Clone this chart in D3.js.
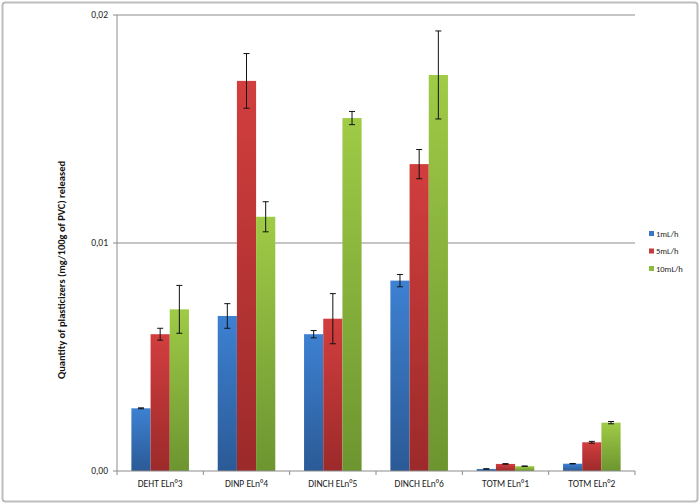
<!DOCTYPE html>
<html>
<head>
<meta charset="utf-8">
<script src="https://cdn.jsdelivr.net/npm/d3@7"></script>
<style>
  body { margin: 0; background: #fff; }
  svg { display: block; font-family: Calibri, "Open Sans", "Liberation Sans", sans-serif; }
</style>
</head>
<body>
<div id="container"></div>
<script>
var categories = ["DEHT ELn°3", "DINP ELn°4", "DINCH ELn°5", "DINCH ELn°6", "TOTM ELn°1", "TOTM ELn°2"];
var seriesNames = ["1mL/h", "5mL/h", "10mL/h"];
var values1 = [0.00275, 0.0068, 0.0060, 0.00835, 0.00009, 0.00032];
var values5 = [0.0060, 0.01711, 0.00668, 0.01346, 0.00031, 0.00126];
var values10 = [0.00709, 0.01115, 0.01548, 0.01737, 0.00021, 0.00212];
var errors1 = [0.00002, 0.00054, 0.00016, 0.00027, 0.00001, 0.00001];
var errors5 = [0.00026, 0.0012, 0.0011, 0.00064, 0.00001, 0.00004];
var errors10 = [0.00105, 0.00066, 0.00029, 0.00193, 0.00001, 0.00005];
var yTicks = [0, 0.01, 0.02];

var colors = [["#3d81d2", "#2b5a96"], ["#d23e3e", "#9c2a2a"], ["#9fcb46", "#6c9530"]];
var legendColors = ["#3a78c4", "#c53a3a", "#8cbb3e"];

var W = 700, H = 504;
var margin = { top: 15, right: 65, bottom: 33, left: 117 };
var width = W - margin.left - margin.right;
var height = H - margin.top - margin.bottom;

var svg = d3.select("#container").append("svg")
    .attr("width", W)
    .attr("height", H);

// rounded outer frame
svg.append("rect")
    .attr("x", 2.5).attr("y", 2.5)
    .attr("width", W - 5).attr("height", H - 5)
    .attr("rx", 3)
    .attr("fill", "none")
    .attr("stroke", "#bdbdbd")
    .attr("stroke-width", 2);

var defs = svg.append("defs");
colors.forEach((c, i) => {
    var g = defs.append("linearGradient")
        .attr("id", "grad" + i)
        .attr("x1", 0).attr("y1", 0).attr("x2", 0).attr("y2", 1);
    g.append("stop").attr("offset", "0%").attr("stop-color", c[0]);
    g.append("stop").attr("offset", "100%").attr("stop-color", c[1]);
});

var main = svg.append("g")
    .attr("transform", `translate(${margin.left},${margin.top})`);

var x0 = d3.scaleBand().domain(categories).range([0, width]).paddingInner(0).paddingOuter(0);
var barW = x0.bandwidth() / 4.5;
var x1 = d3.scaleBand().domain(seriesNames).range([0, barW * 3]);
var y = d3.scaleLinear().domain([0, 0.02]).range([height, 0]);

// gridlines
main.selectAll("line.grid")
    .data(yTicks.slice(1))
    .enter().append("line")
    .attr("class", "grid")
    .attr("x1", 0).attr("x2", width)
    .attr("y1", d => y(d)).attr("y2", d => y(d))
    .attr("stroke", "#8c8c8c")
    .attr("stroke-width", 1);

var data = categories.map((c, i) => ({
    cat: c,
    bars: [
        { s: seriesNames[0], v: values1[i], e: errors1[i], k: 0 },
        { s: seriesNames[1], v: values5[i], e: errors5[i], k: 1 },
        { s: seriesNames[2], v: values10[i], e: errors10[i], k: 2 }
    ]
}));

var group = main.selectAll("g.group")
    .data(data)
    .enter().append("g")
    .attr("class", "group")
    .attr("transform", d => `translate(${x0(d.cat) + (x0.bandwidth() - barW * 3) / 2},0)`);

group.selectAll("rect")
    .data(d => d.bars)
    .enter().append("rect")
    .attr("x", d => x1(d.s))
    .attr("width", x1.bandwidth())
    .attr("y", d => y(d.v))
    .attr("height", d => height - y(d.v))
    .attr("fill", d => `url(#grad${d.k})`);

// error bars
var err = group.selectAll("g.err")
    .data(d => d.bars)
    .enter().append("g")
    .attr("class", "err")
    .attr("stroke", "#111")
    .attr("stroke-width", 1);

err.append("line")
    .attr("x1", d => x1(d.s) + x1.bandwidth() / 2)
    .attr("x2", d => x1(d.s) + x1.bandwidth() / 2)
    .attr("y1", d => y(d.v + d.e))
    .attr("y2", d => y(d.v - d.e));
err.append("line")
    .attr("x1", d => x1(d.s) + x1.bandwidth() / 2 - 3)
    .attr("x2", d => x1(d.s) + x1.bandwidth() / 2 + 3)
    .attr("y1", d => y(d.v + d.e))
    .attr("y2", d => y(d.v + d.e));
err.append("line")
    .attr("x1", d => x1(d.s) + x1.bandwidth() / 2 - 3)
    .attr("x2", d => x1(d.s) + x1.bandwidth() / 2 + 3)
    .attr("y1", d => y(d.v - d.e))
    .attr("y2", d => y(d.v - d.e));

// x axis
var xAxis = main.append("g")
    .attr("transform", `translate(0,${height})`);
xAxis.append("line")
    .attr("x1", 0).attr("x2", width)
    .attr("stroke", "#8c8c8c");
xAxis.selectAll("line.tick")
    .data(d3.range(categories.length + 1))
    .enter().append("line")
    .attr("x1", d => d * x0.step()).attr("x2", d => d * x0.step())
    .attr("y1", 0).attr("y2", 4)
    .attr("stroke", "#8c8c8c");
xAxis.selectAll("text")
    .data(categories)
    .enter().append("text")
    .attr("x", d => x0(d) + x0.bandwidth() / 2)
    .attr("y", 16)
    .attr("text-anchor", "middle")
    .attr("font-size", "9.5px")
    .attr("fill", "#222")
    .text(d => d);

// y axis
var yAxis = main.append("g");
yAxis.append("line")
    .attr("y1", 0).attr("y2", height)
    .attr("stroke", "#8c8c8c");
yAxis.selectAll("line.tick")
    .data(yTicks)
    .enter().append("line")
    .attr("x1", -4).attr("x2", 0)
    .attr("y1", d => y(d)).attr("y2", d => y(d))
    .attr("stroke", "#8c8c8c");
yAxis.selectAll("text")
    .data(yTicks)
    .enter().append("text")
    .attr("x", -9)
    .attr("y", d => y(d))
    .attr("dy", "0.35em")
    .attr("text-anchor", "end")
    .attr("font-size", "9.5px")
    .attr("fill", "#222")
    .text(d => d3.format(".2f")(d).replace(".", ","));

svg.append("text")
    .attr("transform", "translate(65,270) rotate(-90)")
    .attr("text-anchor", "middle")
    .attr("font-size", "10.5px")
    .attr("font-weight", "bold")
    .attr("fill", "#111")
    .text("Quantity of plasticizers (mg/100g of PVC) released");

// legend
var legend = svg.append("g")
    .attr("transform", "translate(649,230)");
var item = legend.selectAll("g")
    .data(seriesNames)
    .enter().append("g")
    .attr("transform", (d, i) => `translate(0,${i * 17.5})`);
item.append("rect")
    .attr("width", 5).attr("height", 5)
    .attr("y", 1)
    .attr("fill", (d, i) => legendColors[i]);
item.append("text")
    .attr("x", 7)
    .attr("y", 4)
    .attr("dy", "0.35em")
    .attr("font-size", "8.5px")
    .attr("fill", "#222")
    .text(d => d);
</script>
</body>
</html>
